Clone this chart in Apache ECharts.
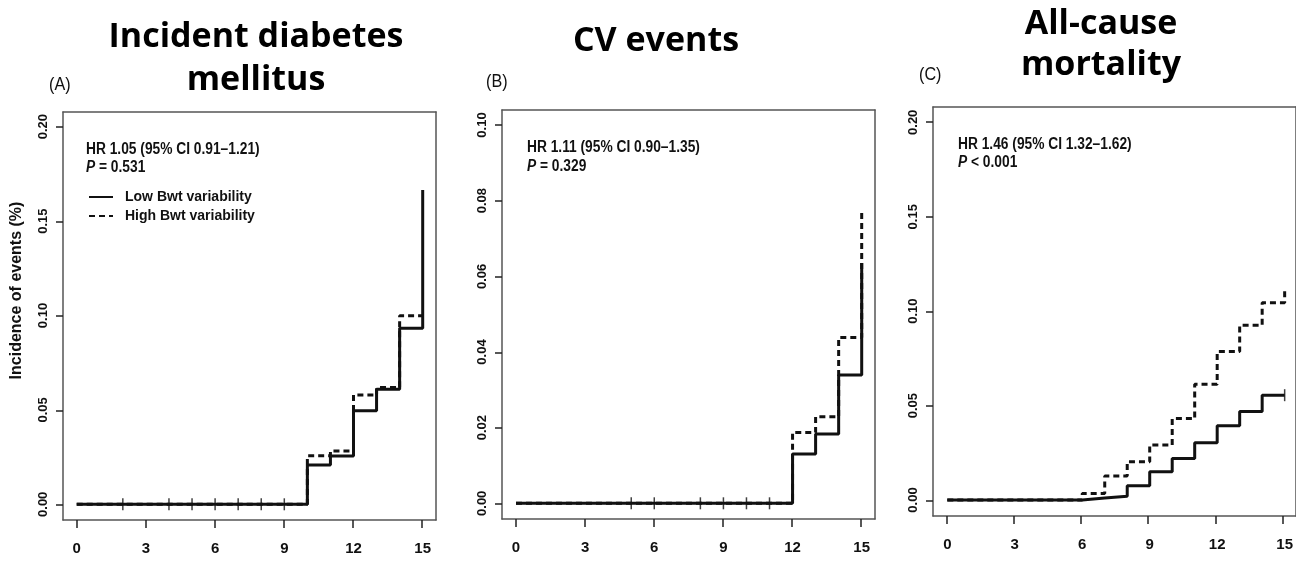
<!DOCTYPE html>
<html lang="en">
<head>
    <meta charset="UTF-8">
    <title>Body weight variability</title>
    <style>
        html, body { margin: 0; padding: 0; background: #fff; }
    </style>
</head>
<body>
<div id="main" style="width:1296px;height:561px;"></div>
<script src="https://cdn.jsdelivr.net/npm/echarts@6.0.0/dist/echarts.min.js"></script>
<script>
    // tick labels
    var xTicks = [0, 3, 6, 9, 12, 15];
    var yTicksA = [0, 0.05, 0.10, 0.15, 0.20];
    var yTicksB = [0, 0.02, 0.04, 0.06, 0.08, 0.10];
    var yTicksC = [0, 0.05, 0.10, 0.15, 0.20];

    // (A) incident diabetes mellitus
    var timeA = [0, 10, 11, 12, 13, 14, 15];
    var lowA = [0, 0.0208, 0.0256, 0.0496, 0.0610, 0.0932, 0.1665];
    var highA = [0, 0.0257, 0.0282, 0.0579, 0.0618, 0.0999, 0.0999];
    var censorA = [2, 4, 5, 6, 7, 8, 9];

    // (B) CV events
    var timeB = [0, 12, 13, 14, 15];
    var lowB = [0, 0.0130, 0.0183, 0.0339, 0.0635];
    var highB = [0, 0.0187, 0.0229, 0.0438, 0.0768];
    var censorB = [5, 6, 8, 9, 10, 11];

    // (C) all-cause mortality
    var timeC = [0, 6, 7, 8, 9, 10, 11, 12, 13, 14, 15];
    var lowC = [0, 0.0010, 0.0020, 0.0075, 0.0150, 0.0220, 0.0303, 0.0393, 0.0468, 0.0555, 0.0555];
    var highC = [0, 0.0035, 0.0127, 0.0203, 0.0291, 0.0431, 0.0613, 0.0786, 0.0925, 0.1045, 0.1110];
    var censorC = [15];
    var censorCy = [0.0555];

    var seriesNames = ['Low Bwt variability', 'High Bwt variability'];
    var titles = [['Incident diabetes', 'mellitus'], ['CV events'], ['All-cause', 'mortality']];
    var panelLabels = ['(A)', '(B)', '(C)'];
    var hrTexts = ['HR 1.05 (95% CI 0.91\u20131.21)', 'HR 1.11 (95% CI 0.90\u20131.35)', 'HR 1.46 (95% CI 1.32\u20131.62)'];
    var pTexts = ['{i|P} = 0.531', '{i|P} = 0.329', '{i|P} < 0.001'];

    var SANS = '"Liberation Sans", Arial, sans-serif';
    var INK = '#111';
    var FRAME = {color: '#555', width: 1.5};

    function pairs(xs, ys) {
        var res = [];
        for (var i = 0; i < xs.length; i++) res.push([xs[i], ys[i]]);
        return res;
    }

    var myChart = echarts.init(document.getElementById('main'));

    // data regions (0..15 by 0..max), then the surrounding boxes
    var plotGrids = [
        {left: 76.7, top: 126.7, width: 346, height: 377.6},
        {left: 516, top: 125, width: 345.7, height: 378.3},
        {left: 947.3, top: 122.3, width: 345.4, height: 377.7}
    ];
    var boxGrids = [
        {left: 63, top: 112, width: 373, height: 408},
        {left: 502, top: 110, width: 373, height: 409},
        {left: 933, top: 107, width: 374, height: 409}
    ];

    var xAxes = [], yAxes = [];
    var yMax = [0.2, 0.1, 0.2];
    var yStep = [0.05, 0.02, 0.05];
    var yTickSets = [yTicksA, yTicksB, yTicksC];
    // label axes on the data regions, pushed out to the box edges
    for (var i = 0; i < 3; i++) {
        var p = plotGrids[i], b = boxGrids[i];
        xAxes.push({
            type: 'value', gridIndex: i, min: 0, max: 15, interval: 3, position: 'bottom',
            offset: (b.top + b.height) - (p.top + p.height),
            splitLine: {show: false},
            axisLine: {show: false, onZero: false},
            axisTick: {show: false},
            axisLabel: {margin: 21, color: INK, fontFamily: SANS, fontWeight: 'bold', fontSize: 15}
        });
        yAxes.push({
            type: 'value', gridIndex: i, min: 0, max: yMax[i], interval: yStep[i], position: 'left',
            offset: p.left - b.left,
            splitLine: {show: false},
            axisLine: {show: false, onZero: false},
            axisTick: {show: false},
            axisLabel: {
                rotate: 90, margin: 13, color: INK,
                fontFamily: SANS, fontWeight: 'bold', fontSize: 13,
                formatter: function (v) { return v.toFixed(2); }
            }
        });
    }
    // box grids: four axis lines make the frame, bottom and left carry the ticks
    for (var j = 0; j < 3; j++) {
        var g = 3 + j;
        var pad = yMax[j] * 0.04;
        xAxes.push({
            type: 'value', gridIndex: g, min: -0.6, max: 15.6, position: 'bottom',
            splitLine: {show: false},
            axisLine: {show: true, onZero: false, lineStyle: FRAME},
            axisTick: {show: true, inside: false, customValues: xTicks, length: 8, lineStyle: {color: '#222', width: 1.5}},
            axisLabel: {show: false}
        });
        xAxes.push({
            type: 'value', gridIndex: g, min: 0, max: 1, position: 'top',
            splitLine: {show: false},
            axisLine: {show: true, onZero: false, lineStyle: FRAME},
            axisTick: {show: false}, axisLabel: {show: false}
        });
        yAxes.push({
            type: 'value', gridIndex: g, min: -pad, max: yMax[j] + pad, position: 'left',
            splitLine: {show: false},
            axisLine: {show: true, onZero: false, lineStyle: FRAME},
            axisTick: {show: true, inside: false, customValues: yTickSets[j], length: 7, lineStyle: {color: '#222', width: 1.5}},
            axisLabel: {show: false}
        });
        yAxes.push({
            type: 'value', gridIndex: g, min: 0, max: 1, position: 'right',
            splitLine: {show: false},
            axisLine: {show: true, onZero: false, lineStyle: FRAME},
            axisTick: {show: false}, axisLabel: {show: false}
        });
    }
    yAxes[0].name = 'Incidence of events (%)';
    yAxes[0].nameLocation = 'middle';
    yAxes[0].nameGap = 38;
    yAxes[0].nameTextStyle = {color: INK, fontFamily: SANS, fontWeight: 'bold', fontSize: 16, padding: [0, 0, 0, 50]};

    function km(name, i, xs, ys, dashed) {
        return {
            name: name, type: 'line', xAxisIndex: i, yAxisIndex: i,
            step: 'end', symbol: 'none', silent: true, animation: false, clip: false,
            data: pairs(xs, ys),
            lineStyle: {color: INK, width: 3, type: dashed ? [6, 4] : 'solid'},
            itemStyle: {color: INK},
            z: dashed ? 3 : 2
        };
    }
    function censor(i, xs, ys) {
        var d = [];
        for (var k = 0; k < xs.length; k++) d.push([xs[k], ys ? ys[k] : 0]);
        return {
            name: 'censor', type: 'scatter', xAxisIndex: i, yAxisIndex: i,
            symbol: 'rect', symbolSize: [1.5, 12], silent: true, animation: false, clip: false,
            itemStyle: {color: INK}, data: d, z: 4
        };
    }

    var graphics = [];
    var titleSpec = [
        {x: 256, ys: [37, 80]},
        {x: 656, ys: [41]},
        {x: 1101, ys: [24, 65]}
    ];
    titleSpec.forEach(function (t, i) {
        titles[i].forEach(function (line, j) {
            graphics.push({
                type: 'text', x: t.x, y: t.ys[j],
                style: {text: line, fill: '#000', font: 'bold 34px "Open Sans", Lato, sans-serif',
                    textAlign: 'center', textVerticalAlign: 'middle'}
            });
        });
    });
    var labelPos = [[49, 85], [486, 82], [919, 75]];
    var hrPos = [[86, 150, 168], [527, 148, 167], [958, 145, 163]];
    for (var n = 0; n < 3; n++) {
        graphics.push({
            type: 'text', x: labelPos[n][0], y: labelPos[n][1], scaleX: 0.85,
            style: {text: panelLabels[n], fill: INK, font: '19px ' + SANS, textVerticalAlign: 'middle'}
        });
        graphics.push({
            type: 'text', x: hrPos[n][0], y: hrPos[n][1], scaleX: 0.86,
            style: {text: hrTexts[n], fill: INK, font: 'bold 16px ' + SANS, textVerticalAlign: 'middle'}
        });
        graphics.push({
            type: 'text', x: hrPos[n][0], y: hrPos[n][2], scaleX: 0.86,
            style: {
                text: pTexts[n], fill: INK, font: 'bold 16px ' + SANS, textVerticalAlign: 'middle',
                rich: {i: {fontStyle: 'italic', fontWeight: 'bold', fontSize: 16, fontFamily: SANS, fill: INK}}
            }
        });
    }

    var option = {
        backgroundColor: '#fff',
        animation: false,
        grid: plotGrids.concat(boxGrids),
        xAxis: xAxes,
        yAxis: yAxes,
        legend: {
            data: seriesNames,
            orient: 'vertical',
            left: 88, top: 190, padding: 0,
            itemWidth: 24, itemHeight: 14, itemGap: 5,
            selectedMode: false,
            itemStyle: {opacity: 0},
            textStyle: {color: INK, fontFamily: SANS, fontWeight: 'bold', fontSize: 14, padding: [0, 0, 0, 7]}
        },
        graphic: graphics,
        series: [
            km(seriesNames[0], 0, timeA, lowA, false),
            km(seriesNames[1], 0, timeA, highA, true),
            censor(0, censorA),
            km(seriesNames[0], 1, timeB, lowB, false),
            km(seriesNames[1], 1, timeB, highB, true),
            censor(1, censorB),
            km(seriesNames[0], 2, timeC, lowC, false),
            km(seriesNames[1], 2, timeC, highC, true),
            censor(2, censorC, censorCy)
        ]
    };
    myChart.setOption(option);
</script>
</body>
</html>
